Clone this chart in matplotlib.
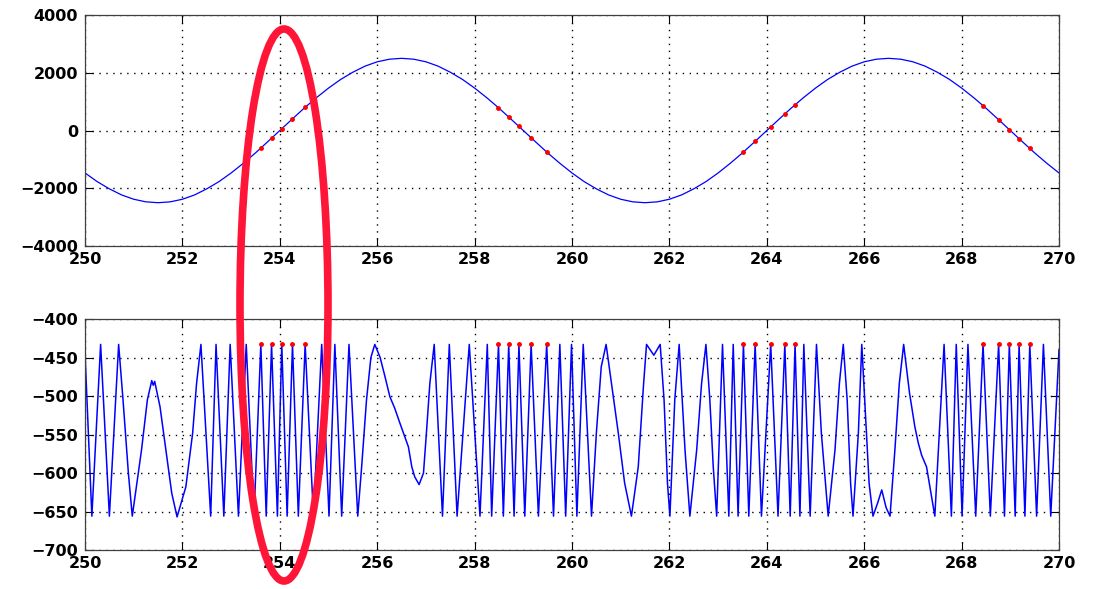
import matplotlib
matplotlib.use('Agg')
import matplotlib.pyplot as plt
from matplotlib.patches import Ellipse

# top trace: sampled every 0.25 s from 250 to 270
top_t = [250 + 0.25 * i for i in range(81)]
top_v = [-1470, -1770, -2020, -2230, -2380, -2470, -2500, -2470, -2380, -2230,
         -2020, -1770, -1470, -1135, -775, -390, 0, 390, 775, 1135,
         1470, 1770, 2020, 2230, 2380, 2470, 2500, 2470, 2380, 2230,
         2020, 1770, 1470, 1135, 775, 390, 0, -390, -775, -1135,
         -1470, -1770, -2020, -2230, -2380, -2470, -2500, -2470, -2380, -2230,
         -2020, -1770, -1470, -1135, -775, -390, 0, 390, 775, 1135,
         1470, 1770, 2020, 2230, 2380, 2470, 2500, 2470, 2380, 2230,
         2020, 1770, 1470, 1135, 775, 390, 0, -390, -775, -1135,
         -1470]

# bottom trace, points
bot_t = [250.00, 250.14, 250.32, 250.50, 250.69, 250.78, 250.89, 250.97, 251.16, 251.28,
         251.37, 251.40, 251.43, 251.54, 251.66, 251.78, 251.89, 252.07, 252.21, 252.29,
         252.38, 252.58, 252.69, 252.85, 252.98, 253.15, 253.31, 253.47, 253.61, 253.72,
         253.83, 253.95, 254.04, 254.15, 254.26, 254.38, 254.52, 254.69, 254.86, 255.01,
         255.13, 255.27, 255.42, 255.60, 255.68, 255.78, 255.87, 255.95, 256.06, 256.16,
         256.26, 256.36, 256.47, 256.64, 256.71, 256.77, 256.86, 256.95, 257.01, 257.08,
         257.17, 257.34, 257.48, 257.64, 257.89, 258.11, 258.26, 258.35, 258.49, 258.59,
         258.70, 258.81, 258.91, 259.03, 259.16, 259.31, 259.48, 259.62, 259.75, 259.87,
         259.99, 260.10, 260.23, 260.40, 260.50, 260.60, 260.70, 260.81, 260.95, 261.08,
         261.22, 261.36, 261.47, 261.53, 261.68, 261.81, 261.89, 261.96, 262.01, 262.11,
         262.20, 262.32, 262.42, 262.56, 262.66, 262.75, 262.83, 262.90, 262.97, 263.09,
         263.22, 263.31, 263.41, 263.52, 263.63, 263.76, 263.89, 264.08, 264.23, 264.37,
         264.48, 264.58, 264.68, 264.76, 264.89, 265.02, 265.12, 265.26, 265.40, 265.49,
         265.57, 265.65, 265.72, 265.77, 265.88, 265.95, 266.01, 266.10, 266.18, 266.27,
         266.36, 266.45, 266.53, 266.63, 266.72, 266.81, 266.93, 267.04, 267.11, 267.18,
         267.28, 267.38, 267.45, 267.64, 267.79, 267.89, 268.01, 268.13, 268.29, 268.44,
         268.59, 268.76, 268.88, 268.98, 269.10, 269.18, 269.30, 269.40, 269.54, 269.68,
         269.83, 270.00]
bot_v = [-445, -656, -433, -656, -433, -505, -600, -656, -570, -505,
         -480, -486, -481, -514, -570, -626, -657, -618, -548, -484,
         -433, -656, -433, -656, -433, -656, -433, -656, -433, -656,
         -433, -656, -433, -656, -433, -656, -433, -656, -433, -656,
         -433, -656, -433, -656, -592, -505, -450, -433, -450, -475,
         -501, -516, -536, -566, -592, -605, -615, -600, -548, -484,
         -433, -656, -433, -656, -433, -656, -433, -656, -433, -656,
         -433, -656, -433, -656, -433, -656, -433, -656, -433, -656,
         -433, -656, -433, -656, -548, -462, -433, -484, -548, -613,
         -656, -592, -484, -433, -447, -433, -505, -613, -656, -505,
         -433, -570, -656, -570, -484, -433, -505, -592, -656, -433,
         -656, -433, -656, -433, -656, -433, -656, -433, -656, -433,
         -656, -433, -656, -433, -656, -433, -548, -656, -570, -484,
         -433, -505, -613, -656, -548, -433, -505, -613, -656, -640,
         -622, -645, -656, -570, -484, -433, -496, -540, -561, -577,
         -592, -630, -656, -433, -656, -433, -656, -433, -656, -433,
         -656, -433, -656, -433, -656, -433, -656, -433, -656, -433,
         -656, -440]

# marked samples (red dots)
dot_t = [253.61, 253.83, 254.04, 254.26, 254.52,
         258.49, 258.70, 258.91, 259.16, 259.48,
         263.52, 263.76, 264.08, 264.37, 264.58,
         268.44, 268.76, 268.98, 269.18, 269.40]
dot_top = [-610, -267, 63, 408, 805,
           790, 468, 141, -250, -743,
           -743, -374, 126, 575, 892,
           863, 374, 31, -283, -622]
dot_bot = [-433] * 20

xticks = list(range(250, 271, 2))

fig = plt.figure(figsize=(10.93, 5.89), dpi=100)
ax1 = fig.add_axes([0.0778, 0.5823, 0.8911, 0.3922])
ax2 = fig.add_axes([0.0778, 0.0662, 0.8911, 0.3922])

ax1.plot(top_t, top_v, color='#0000ff', lw=0.9)
ax1.plot(dot_t, dot_top, '.', color='#ff0000', ms=5)
ax1.set_ylim(-4000, 4000)
ax1.set_yticks([-4000, -2000, 0, 2000, 4000])

ax2.plot(bot_t, bot_v, color='#0000ff', lw=1.1)
ax2.plot(dot_t, dot_bot, '.', color='#ff0000', ms=5)
ax2.set_ylim(-700, -400)
ax2.set_yticks(range(-700, -399, 50))

for ax in (ax1, ax2):
    ax.set_xlim(250, 270)
    ax.set_xticks(xticks)
    ax.grid(True, color='black', linestyle=(0, (1, 4)), linewidth=1.0)
    ax.tick_params(direction='in', top=True, right=True, length=6, width=0.8,
                   labelsize=11.5)
    ax.tick_params(axis='x', pad=4.5)
    ax.tick_params(axis='y', pad=5)
    for lab in ax.get_xticklabels() + ax.get_yticklabels():
        lab.set_fontweight('bold')
        lab.set_family('DejaVu Sans')
    for sp in ax.spines.values():
        sp.set_color('#404040')
        sp.set_linewidth(0.9)

# red highlight ellipse drawn over both panels
ell = Ellipse((284 / 1093., 1 - 305 / 589.), 88 / 1093., 552 / 589.,
              transform=fig.transFigure, fill=False, edgecolor='#ff1538',
              linewidth=5.5, zorder=10)
fig.patches.append(ell)

fig.savefig('out.png', dpi=100)
